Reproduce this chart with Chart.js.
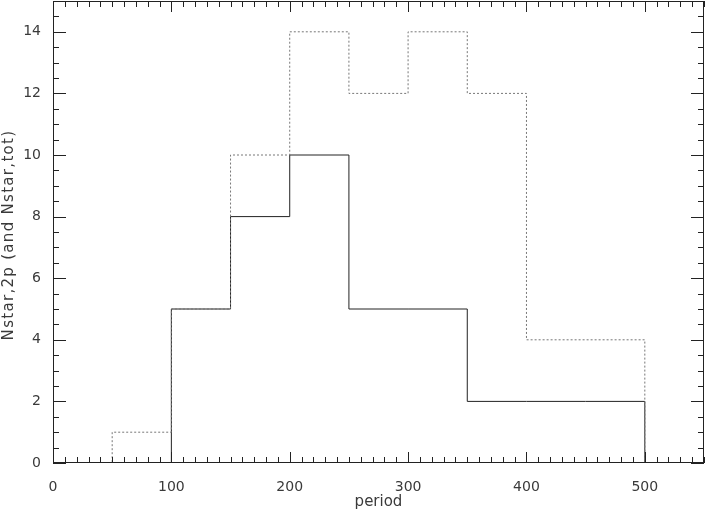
<!DOCTYPE html>
<html>
<head>
<meta charset="utf-8">
<script src="https://cdn.jsdelivr.net/npm/chart.js@4.4.0/dist/chart.umd.min.js"></script>
<style>
  html, body { margin: 0; padding: 0; background: #fff; }
  #wrap { width: 705px; height: 511px; }
</style>
</head>
<body>
<div id="wrap"><canvas id="myChart" width="705" height="511"></canvas></div>
<script>
'use strict';

// histogram bins (left edges), width 50
let binEdges = [0, 50, 100, 150, 200, 250, 300, 350, 400, 450, 500];
let nStar2p = [0, 0, 5, 8, 10, 5, 5, 2, 2, 2];
let nStarTot = [0, 1, 5, 10, 14, 12, 14, 12, 4, 4];

let xTicks = [0, 100, 200, 300, 400, 500];
let yTicks = [0, 2, 4, 6, 8, 10, 12, 14];
let yTitle = 'Nstar,2p (and Nstar,tot)';

// turn bins into step points, last point closes back down to 0
function stepPoints(vals) {
    let pts = [];
    for (let i = 0; i < vals.length; i++) {
        pts.push({x: binEdges[i], y: vals[i]});
    }
    pts.push({x: binEdges[binEdges.length - 1], y: 0});
    return pts;
}

// IDL style frame with inward ticks on all four sides
const frameTicks = {
    id: 'frameTicks',
    afterDraw(chart) {
        let ctx = chart.ctx;
        let a = chart.chartArea;
        let xs = chart.scales.x;
        let ys = chart.scales.y;
        ctx.save();
        ctx.strokeStyle = '#222';
        ctx.lineWidth = 1;
        ctx.strokeRect(a.left + 0.5, a.top + 0.5, a.right - a.left - 1, a.bottom - a.top - 1);
        ctx.beginPath();
        for (let v = 0; v <= 550; v += 10) {
            let px = Math.round(xs.getPixelForValue(v)) + 0.5;
            let len = (v % 100 === 0) ? 11 : 6;
            ctx.moveTo(px, a.bottom);
            ctx.lineTo(px, a.bottom - len);
            ctx.moveTo(px, a.top);
            ctx.lineTo(px, a.top + len);
        }
        for (let v = 0; v <= 15; v += 0.5) {
            let py = Math.round(ys.getPixelForValue(v)) + 0.5;
            let len = (v % 2 === 0) ? 13 : 6;
            ctx.moveTo(a.left, py);
            ctx.lineTo(a.left + len, py);
            ctx.moveTo(a.right, py);
            ctx.lineTo(a.right - len, py);
        }
        ctx.stroke();

        // y title, spaced out like the old vector font
        ctx.translate(9, (a.top + a.bottom) / 2 + 3);
        ctx.rotate(-Math.PI / 2);
        ctx.letterSpacing = '1.3px';
        ctx.font = '15px "DejaVu Sans"';
        ctx.fillStyle = '#3a3a3a';
        ctx.textAlign = 'center';
        ctx.textBaseline = 'middle';
        ctx.fillText(yTitle, 0, 0);
        ctx.restore();
    }
};

let ctx = document.getElementById('myChart').getContext('2d');
let myChart = new Chart(ctx, {
    type: 'line',
    data: {
        datasets: [{
            label: 'Nstar,tot',
            data: stepPoints(nStarTot),
            stepped: 'before',
            borderColor: '#777',
            borderWidth: 1,
            borderDash: [2, 2],
            pointRadius: 0,
            fill: false
        }, {
            label: 'Nstar,2p',
            data: stepPoints(nStar2p),
            stepped: 'before',
            borderColor: '#222',
            borderWidth: 1,
            pointRadius: 0,
            fill: false
        }]
    },
    options: {
        responsive: false,
        animation: false,
        layout: {padding: {top: 1, right: 1, left: 0, bottom: 0}},
        plugins: {
            legend: {display: false},
            tooltip: {enabled: false}
        },
        scales: {
            x: {
                type: 'linear',
                min: 0,
                max: 550,
                afterBuildTicks: function(scale) {
                    scale.ticks = xTicks.map(v => ({value: v}));
                },
                afterFit: function(scale) {
                    scale.height = 48;
                    scale.paddingLeft = 0;
                    scale.paddingRight = 0;
                },
                grid: {display: false, drawTicks: false},
                border: {display: false},
                ticks: {
                    color: '#3a3a3a',
                    padding: 16,
                    maxRotation: 0,
                    font: {family: 'DejaVu Sans', size: 14, weight: 'normal'}
                },
                title: {
                    display: true,
                    text: 'period',
                    color: '#3a3a3a',
                    padding: {top: 0, bottom: 0},
                    font: {family: 'DejaVu Sans', size: 15}
                }
            },
            y: {
                type: 'linear',
                min: 0,
                max: 15,
                afterBuildTicks: function(scale) {
                    scale.ticks = yTicks.map(v => ({value: v}));
                },
                afterFit: function(scale) {
                    scale.width = 53;
                    scale.paddingTop = 0;
                    scale.paddingBottom = 0;
                },
                grid: {display: false, drawTicks: false},
                border: {display: false},
                ticks: {
                    color: '#3a3a3a',
                    padding: 12,
                    font: {family: 'DejaVu Sans', size: 14, weight: 'normal'}
                }
            }
        }
    },
    plugins: [frameTicks]
});
</script>
</body>
</html>
